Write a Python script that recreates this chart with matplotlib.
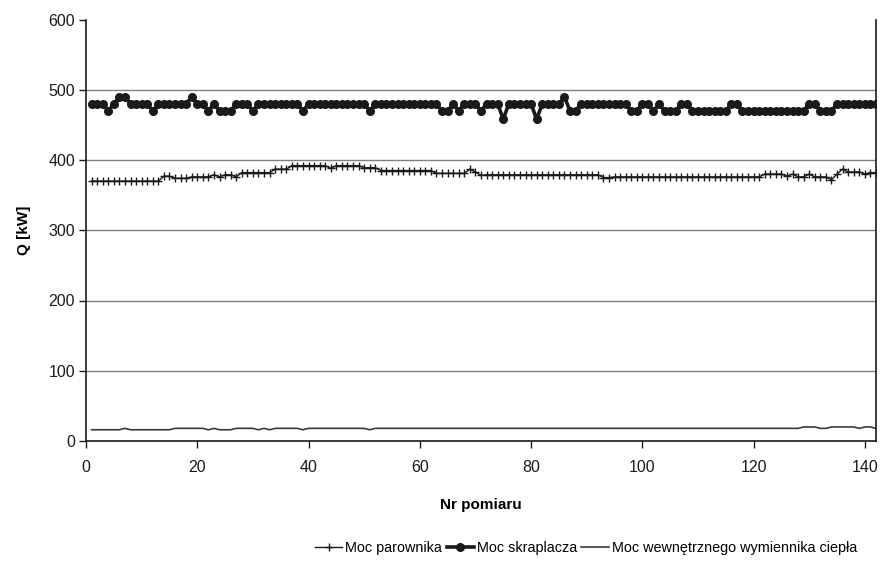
import matplotlib
matplotlib.use("Agg")
import matplotlib.pyplot as plt
import numpy as np

plt.rcParams['font.family'] = ['Liberation Sans', 'DejaVu Sans']

# Measurement index
idx = list(range(1, 143))

# Moc skraplacza (condenser power) [kW]
skraplacz = (
    [480, 480, 480, 470, 480, 490, 490, 480, 480, 480,
     480, 470, 480, 480, 480, 480, 480, 480, 490, 480,
     480, 470, 480, 470, 470, 470, 480, 480, 480, 470,
     480, 480, 480, 480, 480, 480, 480, 480, 470, 480,
     480, 480, 480, 480, 480, 480, 480, 480, 480, 480,
     470, 480, 480, 480, 480, 480, 480, 480, 480, 480,
     480, 480, 480, 470, 470, 480, 470, 480, 480, 480,
     470, 480, 480, 480, 458, 480, 480, 480, 480, 480,
     458, 480, 480, 480, 480, 490, 470, 470, 480, 480,
     480, 480, 480, 480, 480, 480, 480, 470, 470, 480,
     480, 470, 480, 470, 470, 470, 480, 480, 470, 470,
     470, 470, 470, 470, 470, 480, 480, 470, 470, 470,
     470, 470, 470, 470, 470, 470, 470, 470, 470, 480,
     480, 470, 470, 470, 480, 480, 480, 480, 480, 480,
     480, 480]
)

# Moc parownika (evaporator power) [kW]
parownik = (
    [370, 370, 370, 370, 370, 370, 370, 370, 370, 370,
     370, 370, 370, 377, 377, 374, 374, 374, 376, 376,
     376, 376, 379, 376, 379, 379, 376, 382, 382, 382,
     382, 382, 382, 387, 387, 387, 392, 392, 392, 392,
     392, 392, 392, 388, 392, 392, 392, 392, 392, 389,
     389, 389, 385, 385, 385, 385, 385, 385, 385, 385,
     385, 385, 381, 381, 381, 381, 381, 381, 387, 383,
     378, 379, 379, 379, 379, 379, 379, 379, 379, 379,
     379, 379, 379, 379, 379, 379, 379, 379, 379, 379,
     379, 379, 375, 375, 376, 376, 376, 376, 376, 376,
     376, 376, 376, 376, 376, 376, 376, 376, 376, 376,
     376, 376, 376, 376, 376, 376, 376, 376, 376, 376,
     376, 380, 380, 380, 380, 377, 380, 376, 376, 380,
     376, 376, 376, 372, 380, 387, 383, 383, 383, 380,
     382, 382]
)

# Moc wewnetrznego wymiennika ciepla (internal heat exchanger power) [kW]
wymiennik = (
    [16, 16, 16, 16, 16, 16, 18, 16, 16, 16,
     16, 16, 16, 16, 16, 18, 18, 18, 18, 18,
     18, 16, 18, 16, 16, 16, 18, 18, 18, 18,
     16, 18, 16, 18, 18, 18, 18, 18, 16, 18,
     18, 18, 18, 18, 18, 18, 18, 18, 18, 18,
     16, 18, 18, 18, 18, 18, 18, 18, 18, 18,
     18, 18, 18, 18, 18, 18, 18, 18, 18, 18,
     18, 18, 18, 18, 18, 18, 18, 18, 18, 18,
     18, 18, 18, 18, 18, 18, 18, 18, 18, 18,
     18, 18, 18, 18, 18, 18, 18, 18, 18, 18,
     18, 18, 18, 18, 18, 18, 18, 18, 18, 18,
     18, 18, 18, 18, 18, 18, 18, 18, 18, 18,
     18, 18, 18, 18, 18, 18, 18, 18, 20, 20,
     20, 18, 18, 20, 20, 20, 20, 20, 18, 20,
     20, 18]
)

labels = ["Moc parownika", "Moc skraplacza", "Moc wewnętrznego wymiennika ciepła"]
x_ticks = [0, 20, 40, 60, 80, 100, 120, 140]
y_ticks = [0, 100, 200, 300, 400, 500, 600]

fig = plt.figure(figsize=(8.85, 5.67), dpi=100)
ax = fig.add_axes([86/885, 1 - 441/567, (876 - 86)/885, (441 - 19.5)/567])

for yv in y_ticks[1:-1]:
    ax.axhline(yv, color='#808080', lw=1.0, zorder=0)

l1, = ax.plot(idx, parownik, color='#1a1a1a', lw=1.0, marker='+', ms=6,
              mew=1.0, label=labels[0])
l2, = ax.plot(idx, skraplacz, color='#1a1a1a', lw=2.6, marker='o', ms=6.5,
              mew=0, label=labels[1])
l3, = ax.plot(idx, wymiennik, color='#3a3a3a', lw=1.2, label=labels[2])

ax.set_xlim(0, 142)
ax.set_ylim(0, 600)
ax.set_xticks(x_ticks)
ax.set_yticks(y_ticks)
ax.tick_params(axis='both', direction='out', length=5, width=1, labelsize=11.5,
               colors='#1a1a1a')
ax.tick_params(axis='x', pad=9)
ax.tick_params(axis='y', pad=3)
ax.spines['top'].set_visible(False)
for s in ['left', 'bottom', 'right']:
    ax.spines[s].set_linewidth(1.2)
    ax.spines[s].set_color('#1a1a1a')

ax.set_xlabel("Nr pomiaru", fontsize=11, fontweight='bold', labelpad=16)
ax.set_ylabel("Q [kW]", fontsize=11, fontweight='bold', labelpad=12)

fig.legend(handles=[l1, l2, l3], labels=labels, loc='center',
           bbox_to_anchor=(586/885, 1 - 548/567), ncol=3, frameon=False,
           fontsize=10.4, handlelength=1.9, handletextpad=0.2, columnspacing=0.3)

fig.savefig("out.png", dpi=100)
